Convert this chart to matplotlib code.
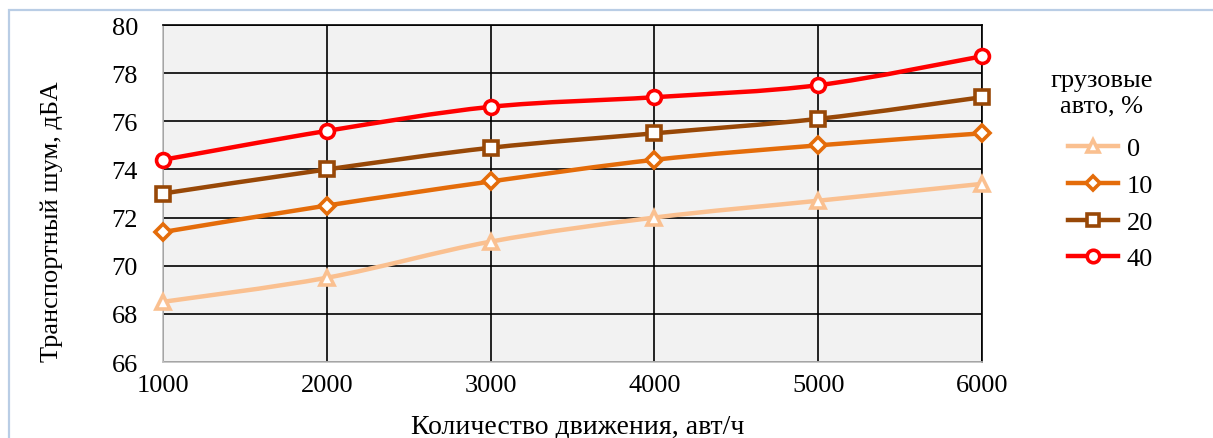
import matplotlib
matplotlib.use("Agg")
import matplotlib.pyplot as plt
from matplotlib.path import Path
from matplotlib.patches import PathPatch, Rectangle
from matplotlib.lines import Line2D
import numpy as np

plt.rcParams['font.family'] = ['Liberation Serif', 'DejaVu Serif']

traffic = [1000, 2000, 3000, 4000, 5000, 6000]
series_labels = ['0', '10', '20', '40']
noise_0 = [68.5, 69.5, 71.0, 72.0, 72.7, 73.4]
noise_10 = [71.4, 72.5, 73.5, 74.4, 75.0, 75.5]
noise_20 = [73.0, 74.0, 74.9, 75.5, 76.1, 77.0]
noise_40 = [74.4, 75.6, 76.6, 77.0, 77.5, 78.7]
yticks = [66, 68, 70, 72, 74, 76, 78, 80]

colors = ['#fac090', '#e46c0a', '#984807', '#ff0000']
markers = ['^', 'D', 's', 'o']
msizes = [10, 8, 10, 10]

fig = plt.figure(figsize=(12.13, 4.39), dpi=100)
ax = fig.add_axes([163/1213, 1-363/439, (982-163)/1213, (363-26)/439])
ax.set_facecolor('#f2f2f2')

def smooth_path(x, y):
    x = np.asarray(x, float); y = np.asarray(y, float)
    verts = [(x[0], y[0])]
    codes = [Path.MOVETO]
    n = len(x)
    for i in range(n-1):
        p0 = np.array([x[max(i-1, 0)], y[max(i-1, 0)]])
        p1 = np.array([x[i], y[i]])
        p2 = np.array([x[i+1], y[i+1]])
        p3 = np.array([x[min(i+2, n-1)], y[min(i+2, n-1)]])
        c1 = p1 + (p2 - p0) / 6.0
        c2 = p2 - (p3 - p1) / 6.0
        verts += [tuple(c1), tuple(c2), tuple(p2)]
        codes += [Path.CURVE4]*3
    return Path(verts, codes)

all_series = [noise_0, noise_10, noise_20, noise_40]
handles = []
for ys, c, m, ms, lab in zip(all_series, colors, markers, msizes, series_labels):
    patch = PathPatch(smooth_path(traffic, ys), facecolor='none', edgecolor=c,
                      lw=3.2, zorder=3, capstyle='round', joinstyle='round')
    ax.add_patch(patch)
    ax.plot(traffic, ys, linestyle='none', marker=m, markersize=ms,
            markerfacecolor='white', markeredgecolor=c, markeredgewidth=2.6,
            zorder=4, clip_on=False)
    handles.append(Line2D([0], [0], color=c, lw=3.2, marker=m, markersize=ms-1,
                          markerfacecolor='white', markeredgecolor=c,
                          markeredgewidth=2.6, label=lab))

ax.set_xlim(1000, 6000)
ax.set_ylim(66, 80)
ax.set_xticks(traffic)
ax.set_yticks(yticks)
ax.grid(True, color='black', lw=1.2, zorder=1)
ax.set_axisbelow(True)
for s in ['left', 'bottom']:
    ax.spines[s].set_color('#bfbfbf')
    ax.spines[s].set_linewidth(1.2)
for s in ['top', 'right']:
    ax.spines[s].set_color('black')
    ax.spines[s].set_linewidth(1.2)
ax.tick_params(length=0, labelsize=19)
ax.tick_params(axis='y', pad=18)
ax.tick_params(axis='x', pad=9)
ax.set_xlabel('Количество движения, авт/ч', fontsize=20, labelpad=15)
ax.xaxis.set_label_coords((578-163)/(982-163), -(427-363)/(363-26))
ax.xaxis.label.set_va('center')
ax.set_ylabel('Транспортный шум, дБА', fontsize=19)
ax.yaxis.set_label_coords(-(163-52)/(982-163), (363-222)/(363-26))
ax.yaxis.label.set_va('center')

leg = fig.legend(handles=handles, title='грузовые\nавто, %', loc='upper left',
                 bbox_to_anchor=(1027/1213, 1-46/439), frameon=False,
                 fontsize=19, title_fontsize=19, handlelength=1.9,
                 labelspacing=0.5, handletextpad=0.35)
leg.get_title().set_multialignment('center')
leg._legend_box.align = 'right'
leg._legend_box.sep = 15

border = Rectangle((9/1213, -0.5), 1.2, 1.5-11/439, transform=fig.transFigure,
                   facecolor='none', edgecolor='#b9cde5', lw=1.6, clip_on=False)
fig.add_artist(border)

fig.savefig('out.png', dpi=100)
